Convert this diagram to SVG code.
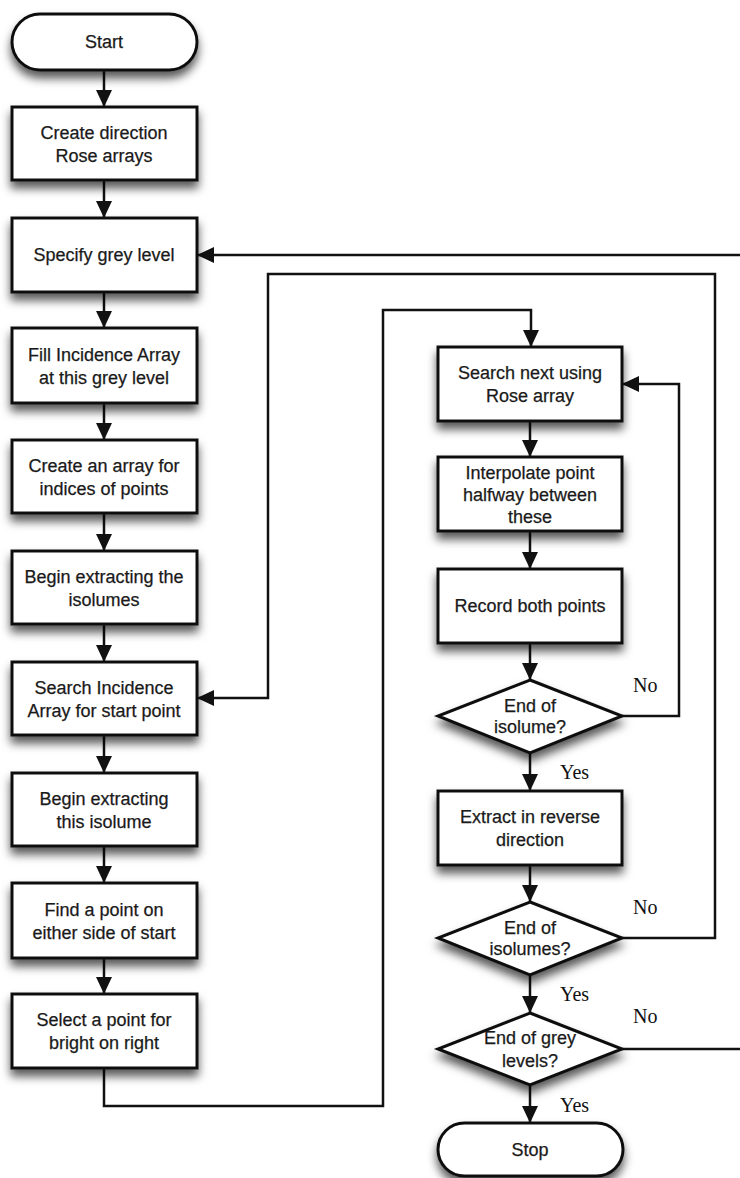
<svg xmlns="http://www.w3.org/2000/svg" width="740" height="1178" viewBox="0 0 740 1178">
<defs>
<filter id="sh" x="-20%" y="-20%" width="140%" height="160%">
<feDropShadow dx="0" dy="7" stdDeviation="5" flood-color="#000" flood-opacity="0.65"/>
</filter>
<marker id="ah" markerUnits="userSpaceOnUse" markerWidth="17" markerHeight="18" refX="17" refY="8" orient="auto">
<path d="M0,0 L17,8 L0,16 Z" fill="#111"/>
</marker>
<style>
.n{fill:#fff;stroke:#111;stroke-width:3;filter:url(#sh)}
.t{font-family:"Liberation Sans",Arial,sans-serif;font-size:18px;fill:#1a1a1a;text-anchor:middle;stroke:#1a1a1a;stroke-width:0.25}
.l{font-family:"Liberation Serif","Times New Roman",serif;font-size:20px;fill:#111}
.c{fill:none;stroke:#111;stroke-width:2.5}
</style>
</defs>
<rect width="740" height="1178" fill="#fff"/>
<g id="connectors">
<path class="c" d="M104,70 V107" marker-end="url(#ah)"/>
<path class="c" d="M104,180 V218" marker-end="url(#ah)"/>
<path class="c" d="M104,292 V328" marker-end="url(#ah)"/>
<path class="c" d="M104,403 V440" marker-end="url(#ah)"/>
<path class="c" d="M104,513 V551" marker-end="url(#ah)"/>
<path class="c" d="M104,624 V662" marker-end="url(#ah)"/>
<path class="c" d="M104,735 V773" marker-end="url(#ah)"/>
<path class="c" d="M104,846 V883" marker-end="url(#ah)"/>
<path class="c" d="M104,958 V994" marker-end="url(#ah)"/>
<path class="c" d="M104,1068 V1106 H383 V310 H531 V347" marker-end="url(#ah)"/>
<path class="c" d="M530,421 V457" marker-end="url(#ah)"/>
<path class="c" d="M530,531 V569" marker-end="url(#ah)"/>
<path class="c" d="M530,643 V680" marker-end="url(#ah)"/>
<path class="c" d="M530,753 V791" marker-end="url(#ah)"/>
<path class="c" d="M530,865 V902" marker-end="url(#ah)"/>
<path class="c" d="M530,975 V1013" marker-end="url(#ah)"/>
<path class="c" d="M530,1085 V1123" marker-end="url(#ah)"/>
<path class="c" d="M622,716 H679 V384 H622" marker-end="url(#ah)"/>
<path class="c" d="M622,938 H715 V274 H268 V698 H197" marker-end="url(#ah)"/>
<path class="c" d="M622,1049 H740"/>
<path class="c" d="M740,255 H197" marker-end="url(#ah)"/>
<text class="l" x="633" y="692">No</text>
<text class="l" x="560" y="779">Yes</text>
<text class="l" x="633" y="914">No</text>
<text class="l" x="560" y="1001">Yes</text>
<text class="l" x="633" y="1023">No</text>
<text class="l" x="560" y="1112">Yes</text>
</g>
<g id="start"><rect class="n" x="12" y="14" width="185" height="56" rx="28"/><text class="t" x="104" y="48">Start</text></g>
<g id="n1"><rect class="n" x="12" y="107" width="185" height="73"/><text class="t" x="104" y="139">Create direction</text><text class="t" x="104" y="162">Rose arrays</text></g>
<g id="n2"><rect class="n" x="12" y="218" width="185" height="74"/><text class="t" x="104" y="261">Specify grey level</text></g>
<g id="n3"><rect class="n" x="12" y="328" width="185" height="75"/><text class="t" x="104" y="361">Fill Incidence Array</text><text class="t" x="104" y="384">at this grey level</text></g>
<g id="n4"><rect class="n" x="12" y="440" width="185" height="73"/><text class="t" x="104" y="472">Create an array for</text><text class="t" x="104" y="495">indices of points</text></g>
<g id="n5"><rect class="n" x="12" y="551" width="185" height="73"/><text class="t" x="104" y="583">Begin extracting the</text><text class="t" x="104" y="606">isolumes</text></g>
<g id="n6"><rect class="n" x="12" y="662" width="185" height="73"/><text class="t" x="104" y="694">Search Incidence</text><text class="t" x="104" y="717">Array for start point</text></g>
<g id="n7"><rect class="n" x="12" y="773" width="185" height="73"/><text class="t" x="104" y="805">Begin extracting</text><text class="t" x="104" y="828">this isolume</text></g>
<g id="n8"><rect class="n" x="12" y="883" width="185" height="75"/><text class="t" x="104" y="916">Find a point on</text><text class="t" x="104" y="939">either side of start</text></g>
<g id="n9"><rect class="n" x="12" y="994" width="185" height="74"/><text class="t" x="104" y="1026">Select a point for</text><text class="t" x="104" y="1049">bright on right</text></g>
<g id="r1"><rect class="n" x="438" y="347" width="184" height="74"/><text class="t" x="530" y="379">Search next using</text><text class="t" x="530" y="402">Rose array</text></g>
<g id="r2"><rect class="n" x="438" y="457" width="184" height="74"/><text class="t" x="530" y="479">Interpolate point</text><text class="t" x="530" y="501">halfway between</text><text class="t" x="530" y="523">these</text></g>
<g id="r3"><rect class="n" x="438" y="569" width="184" height="74"/><text class="t" x="530" y="612">Record both points</text></g>
<g id="d1"><polygon class="n" points="530,680 622,716 530,753 438,716"/><text class="t" x="530" y="712">End of</text><text class="t" x="530" y="733">isolume?</text></g>
<g id="r4"><rect class="n" x="438" y="791" width="184" height="74"/><text class="t" x="530" y="823">Extract in reverse</text><text class="t" x="530" y="846">direction</text></g>
<g id="d2"><polygon class="n" points="530,902 622,938 530,975 438,938"/><text class="t" x="530" y="934">End of</text><text class="t" x="530" y="955">isolumes?</text></g>
<g id="d3"><polygon class="n" points="530,1013 622,1049 530,1085 438,1049"/><text class="t" x="530" y="1044">End of grey</text><text class="t" x="530" y="1067">levels?</text></g>
<g id="stop"><rect class="n" x="438" y="1123" width="185" height="53" rx="26.5"/><text class="t" x="530" y="1156">Stop</text></g>
</svg>
